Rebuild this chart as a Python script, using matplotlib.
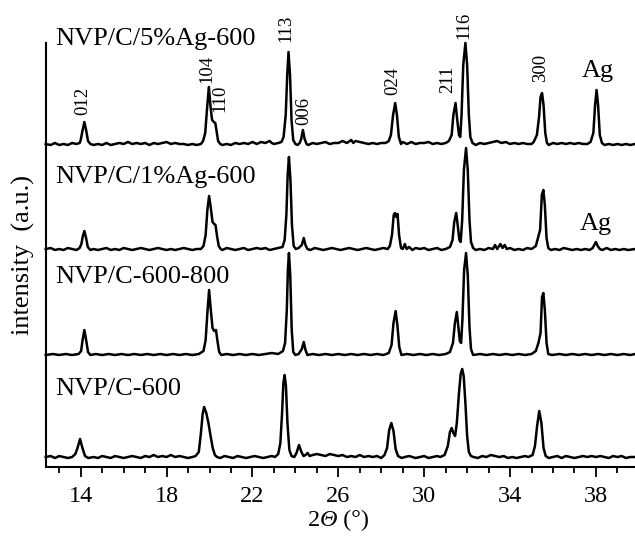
import matplotlib
matplotlib.use("Agg")
import matplotlib.pyplot as plt
from matplotlib.ticker import MultipleLocator, FixedLocator
from matplotlib.offsetbox import TextArea, HPacker, AnchoredOffsetbox
import numpy as np

plt.rcParams['font.family'] = ['Liberation Serif', 'DejaVu Serif']

# ---------------- data (2theta, relative intensity) ----------------
sample_names = ["NVP/C/5%Ag-600", "NVP/C/1%Ag-600", "NVP/C-600-800", "NVP/C-600"]
trace_offsets = [322, 217, 112, 9]

profile_5ag = [
    (12.37, 1), (12.6, 0), (12.8, 2), (13.0, 0), (13.2, 1), (13.4, 0), (13.6, 2), (13.8, 1), (13.95, 2),
    (14.0, 5), (14.08, 14), (14.17, 23), (14.26, 14), (14.34, 4), (14.45, 1),
    (14.6, 0), (14.8, 1), (15.0, 0), (15.2, 2), (15.4, 0), (15.6, 1), (15.8, 2), (16.0, 1), (16.2, 3),
    (16.4, 1), (16.6, 2), (16.8, 1), (17.0, 2), (17.2, 0), (17.4, 2), (17.6, 1), (17.8, 2), (18.0, 3),
    (18.2, 1), (18.4, 2), (18.6, 1), (18.8, 1), (19.0, 0), (19.2, 1), (19.4, 0), (19.6, 1), (19.7, 4),
    (19.8, 12), (19.88, 35), (19.97, 58), (20.05, 38), (20.12, 25), (20.2, 23), (20.27, 22), (20.33, 14),
    (20.4, 4), (20.5, 1),
    (20.6, 0), (20.8, 1), (21.0, 0), (21.2, 2), (21.4, 1), (21.6, 2), (21.8, 1), (22.0, 3), (22.2, 1),
    (22.4, 3), (22.6, 2), (22.8, 4), (22.9, 2), (23.0, 1), (23.2, 2), (23.35, 3),
    (23.45, 8), (23.55, 30), (23.62, 70), (23.68, 93), (23.75, 70), (23.82, 25), (23.9, 5), (24.0, 1),
    (24.1, 0), (24.2, 2),
    (24.27, 6), (24.35, 15), (24.43, 6), (24.52, 1), (24.6, 0), (24.8, 2), (25.0, 1), (25.2, 2), (25.4, 3),
    (25.6, 1), (25.8, 2), (26.0, 2), (26.2, 4), (26.4, 2), (26.6, 5), (26.7, 2), (26.8, 4), (27.0, 3),
    (27.2, 2), (27.4, 1), (27.6, 2), (27.8, 1), (28.0, 2), (28.2, 2), (28.35, 4),
    (28.45, 10), (28.55, 30), (28.65, 42), (28.73, 30), (28.82, 8), (28.92, 1), (29.0, 3), (29.2, 1),
    (29.4, 3), (29.6, 1), (29.8, 2), (30.0, 2), (30.2, 3), (30.4, 1), (30.6, 2), (30.8, 1), (31.0, 2),
    (31.15, 4),
    (31.28, 10), (31.36, 30), (31.46, 42), (31.54, 25), (31.62, 10), (31.68, 8), (31.74, 30), (31.82, 80),
    (31.92, 102), (32.0, 80), (32.08, 30), (32.15, 8), (32.25, 2), (32.4, 0), (32.6, 2), (32.8, 1),
    (33.0, 2), (33.2, 3), (33.4, 4), (33.6, 2), (33.8, 3), (34.0, 1), (34.2, 2), (34.4, 1), (34.6, 2),
    (34.8, 1), (35.0, 1), (35.1, 3),
    (35.25, 10), (35.35, 28), (35.42, 48), (35.49, 52), (35.56, 40), (35.64, 12), (35.72, 2), (35.8, 0),
    (36.0, 2), (36.2, 1), (36.4, 2), (36.6, 1), (36.8, 2), (37.0, 1), (37.2, 2), (37.4, 1), (37.6, 1),
    (37.75, 3),
    (37.88, 12), (37.96, 40), (38.03, 55), (38.1, 40), (38.18, 10), (38.28, 2), (38.4, 0), (38.6, 1),
    (38.8, 0), (39.0, 1), (39.2, 0), (39.4, 1), (39.6, 0), (39.82, 1),
]

profile_1ag = [
    (12.37, 1), (12.6, 2), (12.8, 0), (13.0, 1), (13.2, 0), (13.4, 2), (13.6, 1), (13.8, 0), (13.95, 2),
    (14.03, 6), (14.1, 14), (14.17, 19), (14.25, 12), (14.33, 3), (14.45, 0),
    (14.6, 1), (14.8, 0), (15.0, 1), (15.2, 2), (15.4, 0), (15.6, 1), (15.8, 0), (16.0, 2), (16.2, 1),
    (16.4, 0), (16.6, 1), (16.8, 2), (17.0, 1), (17.2, 0), (17.4, 1), (17.6, 2), (17.8, 1), (18.0, 0),
    (18.2, 1), (18.4, 0), (18.6, 1), (18.8, 2), (19.0, 1), (19.2, 0), (19.4, 1), (19.6, 1), (19.72, 4),
    (19.82, 15), (19.9, 40), (19.98, 54), (20.06, 42), (20.14, 28), (20.22, 26), (20.28, 25), (20.35, 14),
    (20.43, 4), (20.52, 1),
    (20.6, 0), (20.8, 2), (21.0, 1), (21.2, 0), (21.4, 1), (21.6, 2), (21.8, 0), (22.0, 1), (22.2, 2),
    (22.4, 1), (22.6, 2), (22.8, 0), (23.0, 1), (23.2, 2), (23.4, 3),
    (23.5, 10), (23.58, 35), (23.64, 75), (23.7, 93), (23.77, 70), (23.84, 25), (23.92, 4), (24.02, 1),
    (24.15, 2),
    (24.3, 5), (24.39, 12), (24.47, 5), (24.56, 1), (24.7, 0), (24.9, 2), (25.1, 1), (25.3, 0), (25.5, 1),
    (25.7, 2), (25.9, 1), (26.1, 0), (26.3, 1), (26.5, 2), (26.7, 1), (26.9, 0), (27.1, 1), (27.3, 2),
    (27.5, 1), (27.7, 0), (27.9, 1), (28.1, 2), (28.3, 1), (28.4, 4),
    (28.5, 15), (28.58, 35), (28.64, 37), (28.7, 33), (28.76, 36), (28.83, 15), (28.92, 2), (29.0, 1),
    (29.1, 6), (29.18, 1), (29.3, 3), (29.45, 0), (29.6, 2), (29.8, 1), (30.0, 2), (30.2, 0), (30.4, 1),
    (30.6, 2), (30.8, 0), (31.0, 1), (31.2, 3),
    (31.32, 10), (31.4, 28), (31.49, 37), (31.56, 25), (31.64, 10), (31.7, 8), (31.77, 30), (31.85, 80),
    (31.95, 102), (32.03, 80), (32.11, 30), (32.18, 8), (32.28, 2), (32.4, 0), (32.6, 1), (32.8, 0),
    (33.0, 2), (33.2, 1), (33.3, 5), (33.4, 1), (33.55, 6), (33.65, 2), (33.75, 5), (33.85, 1), (34.0, 2),
    (34.2, 0), (34.4, 1), (34.6, 0), (34.8, 2), (35.0, 1), (35.2, 4),
    (35.3, 12), (35.4, 20), (35.48, 55), (35.55, 60), (35.62, 45), (35.7, 12), (35.78, 2), (35.9, 0),
    (36.1, 1), (36.3, 0), (36.5, 2), (36.7, 1), (36.9, 0), (37.1, 1), (37.3, 0), (37.5, 1), (37.7, 0),
    (37.85, 2),
    (37.92, 5), (38.0, 8), (38.08, 4), (38.18, 1), (38.3, 0), (38.5, 2), (38.7, 0), (38.9, 1), (39.1, 0),
    (39.3, 1), (39.5, 0), (39.82, 1),
]

profile_600_800 = [
    (12.37, 0), (12.7, 1), (13.0, 0), (13.3, 1), (13.6, 0), (13.9, 1), (14.02, 4),
    (14.08, 14), (14.17, 25), (14.26, 14), (14.34, 3), (14.45, 0),
    (14.7, 1), (15.0, 0), (15.3, 1), (15.6, 0), (15.9, 1), (16.2, 0), (16.5, 1), (16.8, 0), (17.1, 1),
    (17.4, 0), (17.7, 1), (18.0, 0), (18.3, 1), (18.6, 0), (18.9, 1), (19.2, 0), (19.5, 1), (19.72, 4),
    (19.82, 15), (19.9, 42), (19.98, 65), (20.06, 45), (20.14, 27), (20.22, 24), (20.3, 25), (20.37, 14),
    (20.45, 3), (20.55, 0),
    (20.8, 1), (21.1, 0), (21.4, 1), (21.7, 0), (22.0, 1), (22.3, 0), (22.6, 1), (22.9, 2), (23.2, 1),
    (23.42, 4),
    (23.52, 12), (23.6, 45), (23.65, 85), (23.7, 102), (23.76, 80), (23.83, 25), (23.9, 3), (24.0, 0),
    (24.15, 1),
    (24.3, 6), (24.39, 13), (24.47, 5), (24.56, 0), (24.8, 1), (25.1, 0), (25.4, 1), (25.7, 0), (26.0, 1),
    (26.3, 0), (26.6, 1), (26.9, 0), (27.2, 1), (27.5, 0), (27.8, 1), (28.1, 0), (28.35, 2),
    (28.48, 10), (28.57, 32), (28.67, 44), (28.75, 30), (28.84, 8), (28.94, 0), (29.2, 1), (29.5, 0),
    (29.8, 1), (30.1, 0), (30.4, 1), (30.7, 0), (31.0, 1), (31.2, 3),
    (31.34, 12), (31.43, 32), (31.52, 43), (31.59, 28), (31.66, 14), (31.72, 12), (31.78, 35), (31.86, 85),
    (31.95, 102), (32.03, 80), (32.11, 28), (32.18, 6), (32.28, 0), (32.6, 1), (32.9, 0), (33.2, 1),
    (33.5, 0), (33.8, 1), (34.1, 0), (34.4, 1), (34.7, 0), (35.0, 1), (35.2, 4),
    (35.32, 12), (35.42, 22), (35.49, 58), (35.55, 62), (35.62, 45), (35.7, 12), (35.78, 1), (35.95, 0),
    (36.3, 1), (36.6, 0), (36.9, 1), (37.2, 0), (37.5, 1), (37.8, 0), (38.1, 1), (38.4, 0), (38.7, 1),
    (39.0, 0), (39.3, 1), (39.6, 0), (39.82, 1),
]

profile_600 = [
    (12.37, 1), (12.6, 2), (12.8, 0), (13.0, 2), (13.2, 1), (13.4, 0), (13.6, 1), (13.75, 4),
    (13.85, 10), (13.97, 19), (14.08, 10), (14.2, 2), (14.35, 0),
    (14.6, 1), (14.8, 0), (15.0, 2), (15.2, 1), (15.4, 0), (15.6, 2), (15.8, 1), (16.0, 0), (16.2, 1),
    (16.4, 2), (16.6, 1), (16.8, 0), (17.0, 2), (17.2, 1), (17.4, 3), (17.6, 1), (17.8, 2), (18.0, 1),
    (18.2, 3), (18.4, 1), (18.6, 2), (18.8, 1), (19.0, 0), (19.2, 1), (19.35, 2), (19.5, 6),
    (19.6, 25), (19.68, 44), (19.75, 51), (19.85, 45), (19.95, 35), (20.05, 22), (20.15, 10), (20.25, 3),
    (20.35, 1),
    (20.5, 0), (20.7, 2), (20.9, 1), (21.1, 0), (21.3, 2), (21.5, 1), (21.7, 0), (21.9, 1), (22.1, 2),
    (22.3, 1), (22.5, 0), (22.7, 1), (22.9, 2), (23.05, 1), (23.2, 4),
    (23.3, 15), (23.38, 45), (23.44, 75), (23.5, 83), (23.56, 72), (23.63, 35), (23.72, 8), (23.82, 2),
    (23.95, 1),
    (24.05, 5), (24.17, 13), (24.28, 6), (24.38, 2), (24.47, 3), (24.57, 5), (24.66, 2), (24.8, 3),
    (25.0, 4), (25.2, 3), (25.4, 2), (25.6, 4), (25.8, 3), (26.0, 2), (26.2, 3), (26.4, 1), (26.6, 2),
    (26.8, 1), (27.0, 3), (27.2, 1), (27.4, 2), (27.6, 1), (27.8, 2), (28.0, 0), (28.15, 3),
    (28.27, 10), (28.37, 28), (28.47, 35), (28.57, 27), (28.67, 9), (28.78, 2), (28.95, 0), (29.1, 1),
    (29.3, 2), (29.45, 1), (29.6, 0), (29.8, 1), (30.0, 2), (30.2, 0), (30.4, 1), (30.6, 2), (30.75, 1),
    (30.95, 3),
    (31.1, 12), (31.2, 26), (31.28, 30), (31.36, 25), (31.44, 22), (31.52, 35), (31.62, 65), (31.7, 84),
    (31.77, 89), (31.84, 82), (31.92, 55), (32.0, 22), (32.08, 6), (32.18, 2), (32.3, 1), (32.5, 0),
    (32.7, 2), (32.9, 1), (33.1, 3), (33.3, 2), (33.5, 1), (33.7, 2), (33.9, 0), (34.1, 1), (34.3, 0),
    (34.5, 1), (34.7, 2), (34.85, 1), (35.05, 3),
    (35.16, 12), (35.26, 32), (35.36, 47), (35.46, 35), (35.56, 10), (35.66, 2), (35.8, 0), (36.0, 1),
    (36.2, 2), (36.4, 0), (36.6, 2), (36.8, 1), (37.0, 0), (37.2, 1), (37.4, 2), (37.6, 1), (37.8, 2),
    (38.0, 1), (38.2, 2), (38.4, 1), (38.6, 0), (38.8, 2), (39.0, 1), (39.2, 2), (39.4, 0), (39.6, 1),
    (39.82, 1),
]

profiles = [profile_5ag, profile_1ag, profile_600_800, profile_600]

hkl_labels = ["012", "104", "110", "113", "006", "024", "211", "116", "300"]
hkl_x = [14.11, 19.87, 20.48, 23.55, 24.39, 28.53, 31.09, 31.83, 35.41]
hkl_y = [352, 384, 355, 425, 342, 372, 374, 428, 385]

ag_label_x = [38.07, 37.98]
ag_label_y = [390, 237]

name_label_y = [422, 284, 184, 72]

x_ticks_major = [14, 18, 22, 26, 30, 34, 38]

# ---------------- figure ----------------
fig = plt.figure(figsize=(6.35, 5.36), dpi=100)
ax = fig.add_axes([0.072, 0.1287, 0.928, 0.7911])

for prof, off in zip(profiles, trace_offsets):
    xs = np.array([p[0] for p in prof])
    ys = np.array([p[1] for p in prof]) + off
    ax.plot(xs, ys, color='black', lw=1.8, solid_joinstyle='round', clip_on=False)

ax.set_xlim(12.37, 39.82)
ax.set_ylim(0, 424)

for name, ny in zip(sample_names, name_label_y):
    ax.text(12.8, ny, name, fontsize=19, ha='left', va='baseline')

for lab, lx, ly in zip(hkl_labels, hkl_x, hkl_y):
    ax.text(lx, ly, lab, fontsize=13.5, rotation=90, ha='center', va='bottom', clip_on=False)

for lx, ly in zip(ag_label_x, ag_label_y):
    ax.text(lx, ly, "Ag", fontsize=19, ha='center', va='baseline', clip_on=False)

for s in ['top', 'right']:
    ax.spines[s].set_visible(False)
ax.spines['left'].set_linewidth(1.5)
ax.spines['bottom'].set_linewidth(1.5)

ax.set_yticks([])
ax.xaxis.set_major_locator(FixedLocator(x_ticks_major))
ax.xaxis.set_minor_locator(MultipleLocator(1))
ax.tick_params(axis='x', which='major', direction='out', length=7.5, width=1.3,
               labelsize=17.5, pad=6)
ax.tick_params(axis='x', which='minor', direction='out', length=4.5, width=1.3)

# x label: "2Θ (°)" with italic Theta
tp = dict(fontsize=17.5, family='Liberation Serif')
xlabel_box = HPacker(children=[
    TextArea("2", textprops=tp),
    TextArea("Θ", textprops=dict(tp, style='italic')),
    TextArea(" (°)", textprops=tp),
], align='baseline', pad=0, sep=0)
anch = AnchoredOffsetbox(loc='center', child=xlabel_box, pad=0, borderpad=0, frameon=False,
                         bbox_to_anchor=(0.533, 0.029), bbox_transform=fig.transFigure)
fig.add_artist(anch)

ax.set_ylabel('intensity  (a.u.)', fontsize=19, labelpad=8)

fig.savefig('out.png', dpi=100)
